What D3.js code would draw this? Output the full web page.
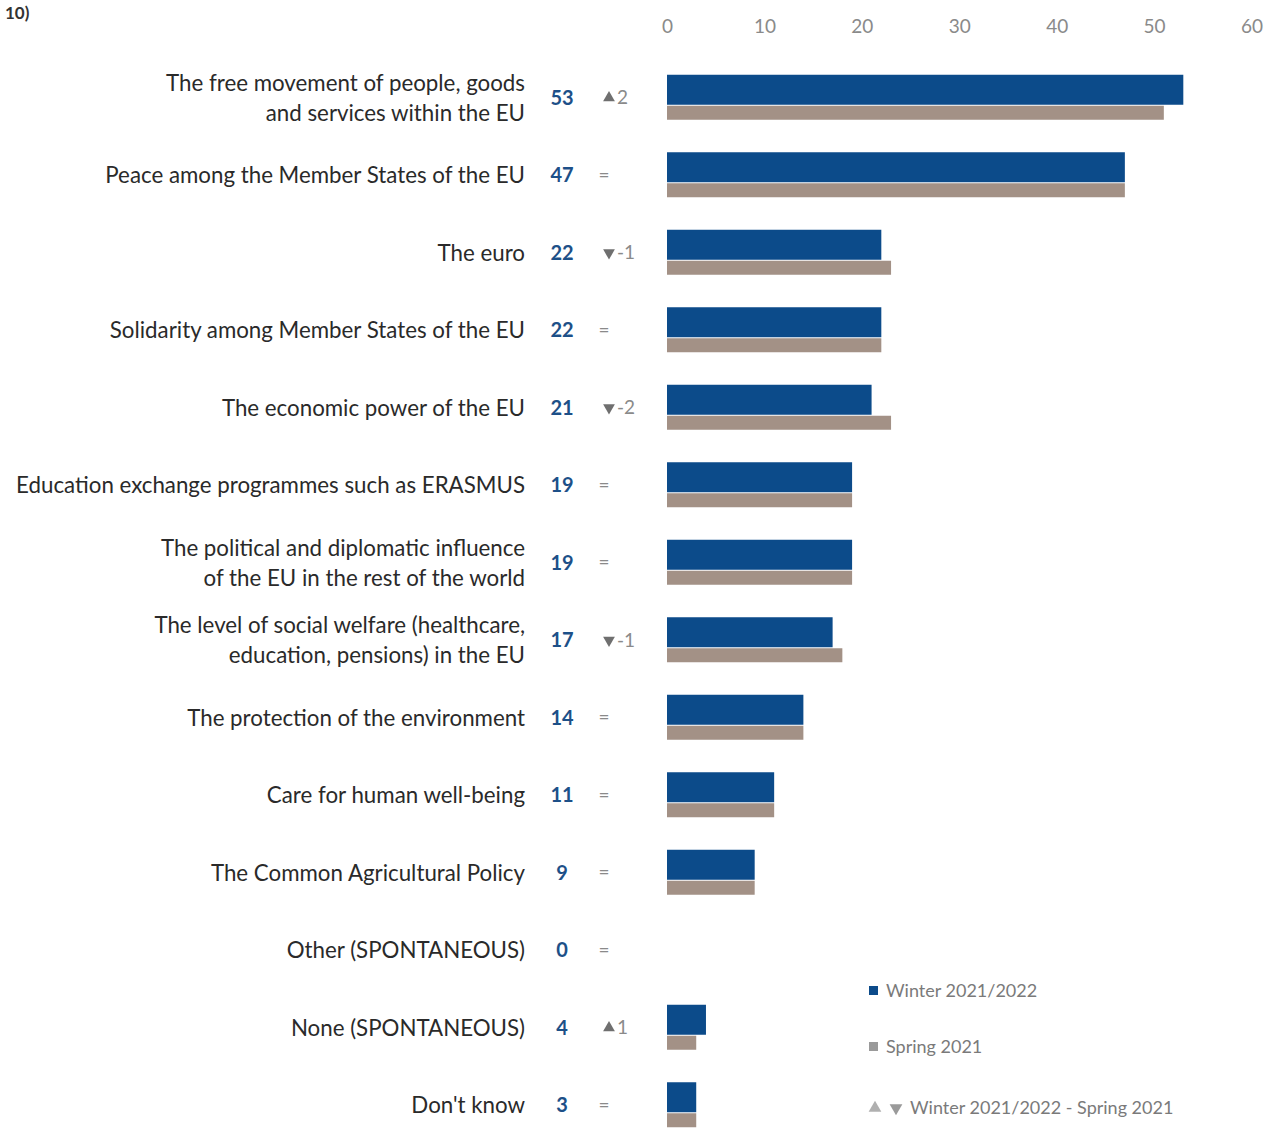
<!DOCTYPE html>
<html>
<head>
<meta charset="utf-8">
<script src="https://cdn.jsdelivr.net/npm/d3@7"></script>
<style>
  html, body { margin: 0; padding: 0; background: #fff; }
  svg { display: block; }
  text { font-family: Lato, "Open Sans", sans-serif; }
</style>
</head>
<body>
<svg id="chart" width="1270" height="1136"></svg>
<script>
// Item labels (multi-line items split into lines)
const categories = [
  ["The free movement of people, goods", "and services within the EU"],
  ["Peace among the Member States of the EU"],
  ["The euro"],
  ["Solidarity among Member States of the EU"],
  ["The economic power of the EU"],
  ["Education exchange programmes such as ERASMUS"],
  ["The political and diplomatic influence", "of the EU in the rest of the world"],
  ["The level of social welfare (healthcare,", "education, pensions) in the EU"],
  ["The protection of the environment"],
  ["Care for human well-being"],
  ["The Common Agricultural Policy"],
  ["Other (SPONTANEOUS)"],
  ["None (SPONTANEOUS)"],
  ["Don't know"]
];
const winter = [53, 47, 22, 22, 21, 19, 19, 17, 14, 11, 9, 0, 4, 3];
const spring = [51, 47, 23, 22, 23, 19, 19, 18, 14, 11, 9, 0, 3, 3];
const change = [2, 0, -1, 0, -2, 0, 0, -1, 0, 0, 0, 0, 1, 0];
const xTicks = [0, 10, 20, 30, 40, 50, 60];
const legendLabels = ["Winter 2021/2022", "Spring 2021", "Winter 2021/2022 - Spring 2021"];

const BLUE = "#0c4b8a";
const GREY = "#a39186";

const svg = d3.select("#chart");

const x = d3.scaleLinear().domain([0, 60]).range([667, 1251.5]);
const y = d3.scaleBand()
  .domain(d3.range(categories.length))
  .range([59, 1144])
  .paddingInner(0).paddingOuter(0);
const rowC = i => y(i) + y.bandwidth() / 2;

// Panel number in the top-left corner
svg.append("text").attr("x", 5).attr("y", 19)
  .attr("font-size", 17).attr("font-weight", 700).attr("fill", "#333")
  .text("10)");

// Top axis
const axis = d3.axisTop(x).tickValues(xTicks).tickSize(0).tickPadding(0);
const gAxis = svg.append("g").attr("transform", "translate(0,33)").call(axis);
gAxis.select(".domain").remove();
gAxis.selectAll("text")
  .attr("font-family", "Lato, sans-serif")
  .attr("font-size", 19).attr("fill", "#8a8a8a");

// Bars: Spring 2021 below, Winter 2021/2022 on top
const rows = svg.append("g").selectAll("g").data(categories).join("g");

rows.append("rect")
  .attr("x", x(0))
  .attr("y", (d, i) => rowC(i) + 8)
  .attr("width", (d, i) => x(spring[i]) - x(0))
  .attr("height", (d, i) => spring[i] > 0 ? 14 : 0)
  .attr("fill", GREY);

rows.append("rect")
  .attr("x", x(0))
  .attr("y", (d, i) => rowC(i) - 23)
  .attr("width", (d, i) => x(winter[i]) - x(0))
  .attr("height", (d, i) => winter[i] > 0 ? 30 : 0)
  .attr("fill", BLUE);

// Item labels
rows.append("text")
  .attr("text-anchor", "end")
  .attr("font-size", 22.3)
  .attr("fill", "#2a2a2a")
  .each(function (d, i) {
    const t = d3.select(this);
    const n = d.length;
    d.forEach((line, k) => {
      t.append("tspan")
        .attr("x", 525)
        .attr("y", rowC(i) + (k - (n - 1) / 2) * 30)
        .attr("dy", "0.35em")
        .text(line);
    });
  });

// Winter values
rows.append("text")
  .attr("x", 562).attr("y", (d, i) => rowC(i)).attr("dy", "0.35em")
  .attr("text-anchor", "middle")
  .attr("font-size", 20).attr("font-weight", 700).attr("fill", "#1d5088")
  .text((d, i) => winter[i]);

// Change versus Spring 2021
const tri = d3.symbol().type(d3.symbolTriangle).size(60);
rows.each(function (d, i) {
  const g = d3.select(this);
  const c = change[i];
  const cy = rowC(i);
  if (c === 0) {
    g.append("text").attr("x", 604).attr("y", cy).attr("dy", "0.35em")
      .attr("text-anchor", "middle").attr("font-size", 19).attr("fill", "#8a8a8a")
      .text("=");
  } else {
    g.append("path").attr("d", tri)
      .attr("transform", `translate(609,${cy}) rotate(${c > 0 ? 0 : 180})`)
      .attr("fill", "#6f6f6f");
    g.append("text").attr("x", 617).attr("y", cy).attr("dy", "0.35em")
      .attr("font-size", 19).attr("fill", "#8a8a8a")
      .text(c > 0 ? String(c) : "-" + Math.abs(c));
  }
});

// Legend
const lg = svg.append("g").attr("font-size", 18).attr("fill", "#7a7a7a");
lg.append("rect").attr("x", 869).attr("y", 986).attr("width", 9).attr("height", 9).attr("fill", BLUE);
lg.append("text").attr("x", 886).attr("y", 991).attr("dy", "0.35em").text(legendLabels[0]);
lg.append("rect").attr("x", 869).attr("y", 1042).attr("width", 9).attr("height", 9).attr("fill", "#9a9a9a");
lg.append("text").attr("x", 886).attr("y", 1047).attr("dy", "0.35em").text(legendLabels[1]);
lg.append("path").attr("d", d3.symbol().type(d3.symbolTriangle).size(70))
  .attr("transform", "translate(875,1108)").attr("fill", "#b0b0b0");
lg.append("path").attr("d", d3.symbol().type(d3.symbolTriangle).size(70))
  .attr("transform", "translate(896,1108) rotate(180)").attr("fill", "#9a9a9a");
lg.append("text").attr("x", 910).attr("y", 1108).attr("dy", "0.35em").text(legendLabels[2]);
</script>
</body>
</html>
